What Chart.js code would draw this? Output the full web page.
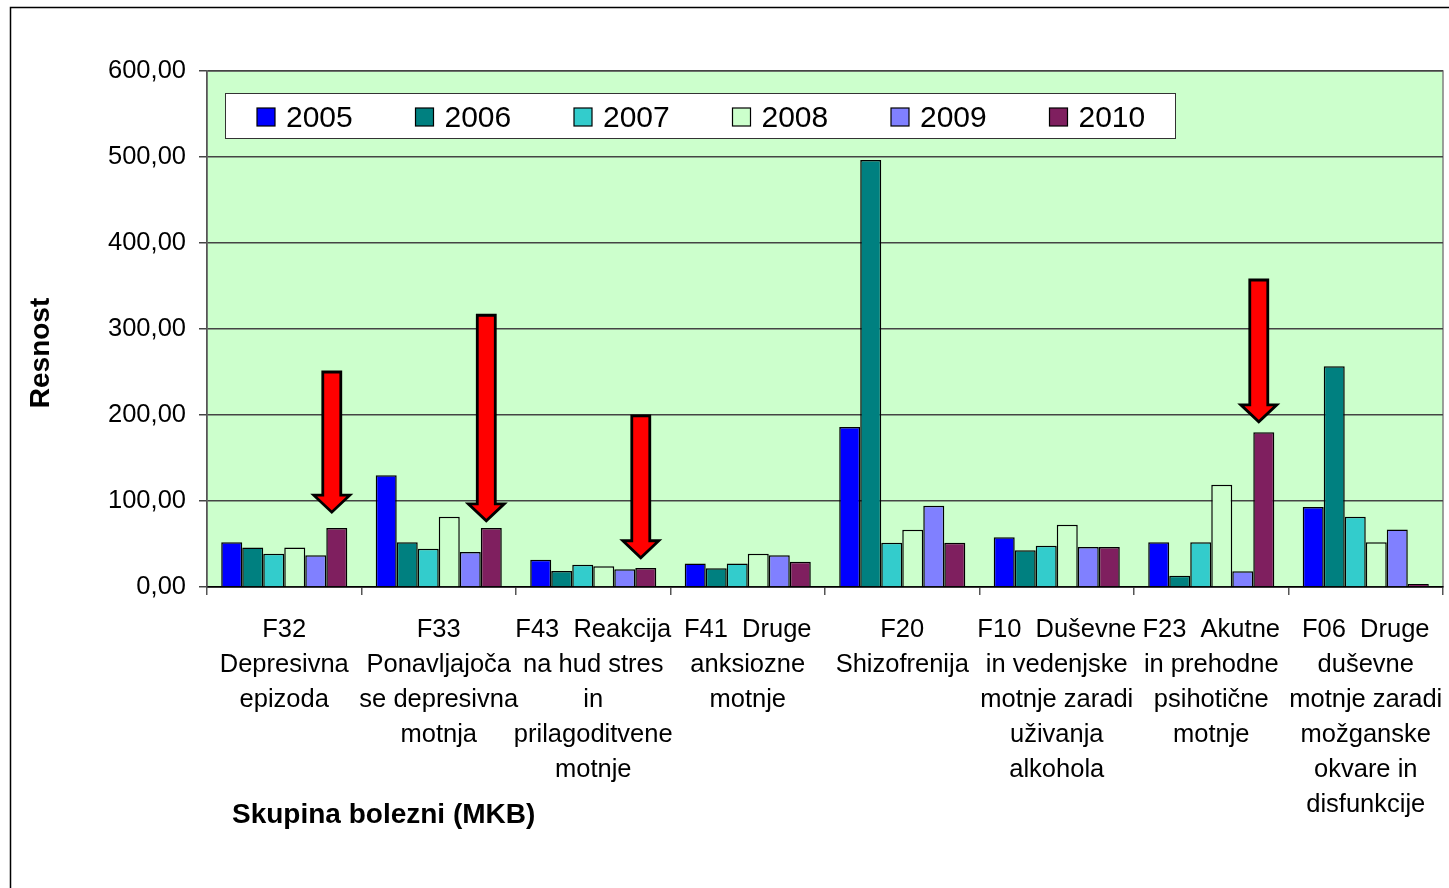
<!DOCTYPE html>
<html>
<head>
<meta charset="utf-8">
<script src="https://cdn.jsdelivr.net/npm/chart.js@4.4.1/dist/chart.umd.min.js"></script>
<style>
  html, body { margin: 0; padding: 0; background: #fff; overflow: hidden; }
</style>
</head>
<body>
<canvas id="resnostChart" width="1449" height="888"></canvas>
<script>
// podatki - resnost po skupinah bolezni (MKB), 2005-2010
const categories = [
  ["F32", "Depresivna", "epizoda"],
  ["F33", "Ponavljajoča", "se depresivna", "motnja"],
  ["F43  Reakcija", "na hud stres", "in", "prilagoditvene", "motnje"],
  ["F41  Druge", "anksiozne", "motnje"],
  ["F20", "Shizofrenija"],
  ["F10  Duševne", "in vedenjske", "motnje zaradi", "uživanja", "alkohola"],
  ["F23  Akutne", "in prehodne", "psihotične", "motnje"],
  ["F06  Druge", "duševne", "motnje zaradi", "možganske", "okvare in", "disfunkcije"]
];
const years = ["2005", "2006", "2007", "2008", "2009", "2010"];
const values2005 = [52, 130, 31.8, 27.2, 186, 57.8, 52, 93];
const values2006 = [46, 52, 18.6, 21.7, 496.5, 42.7, 13.2, 256.6];
const values2007 = [38.7, 44.5, 26, 27.2, 51.5, 48, 52, 81.8];
const values2008 = [46, 81.8, 24, 38.7, 66.6, 72.5, 119, 52];
const values2009 = [36.8, 40.7, 20.5, 36.8, 94.5, 46.5, 18.2, 67];
const values2010 = [68.6, 68.6, 22, 29.4, 51.5, 46.5, 180, 3.5];
const yTicks = [0, 100, 200, 300, 400, 500, 600];

// puščice (kategorija, vrh, konica)
const arrowCategories = [0, 1, 2, 6];
const arrowTop = [250, 316, 199, 357];
const arrowTip = [87, 77, 34, 192];

const seriesColors = ["#0000FF", "#008080", "#33CCCC", "#CCFFCC", "#8080FF", "#7F1F5F"];
const FONT = "'Liberation Sans', Arial, sans-serif";

const allValues = [values2005, values2006, values2007, values2008, values2009, values2010];

const decorPlugin = {
  id: "decor",
  beforeDraw(chart) {
    const { ctx, chartArea: a } = chart;
    ctx.save();
    ctx.fillStyle = "#fff";
    ctx.fillRect(0, 0, chart.width, chart.height);
    // okvir
    ctx.strokeStyle = "#000";
    ctx.lineWidth = 1.5;
    ctx.strokeRect(10.5, 7.5, 1500, 950);
    // ozadje grafa
    ctx.fillStyle = "#CCFFCC";
    ctx.fillRect(a.left, a.top, a.right - a.left, a.bottom - a.top);
    ctx.strokeStyle = "#808080";
    ctx.strokeRect(a.left, a.top, a.right - a.left, a.bottom - a.top);
    ctx.restore();
  },
  afterDraw(chart) {
    const { ctx } = chart;
    const yScale = chart.scales.y;
    const meta = chart.getDatasetMeta(5);

    // puščice
    ctx.save();
    arrowCategories.forEach((ci, i) => {
      const x = meta.data[ci].x - 5;
      const yTop = yScale.getPixelForValue(arrowTop[i]);
      const yTip = yScale.getPixelForValue(arrowTip[i]);
      const headY = yTip - 17;
      ctx.beginPath();
      ctx.moveTo(x - 9, yTop);
      ctx.lineTo(x + 9, yTop);
      ctx.lineTo(x + 9, headY);
      ctx.lineTo(x + 18, headY);
      ctx.lineTo(x, yTip);
      ctx.lineTo(x - 18, headY);
      ctx.lineTo(x - 9, headY);
      ctx.closePath();
      ctx.fillStyle = "#FF0000";
      ctx.fill();
      ctx.strokeStyle = "#000";
      ctx.lineWidth = 2.8;
      ctx.lineJoin = "miter";
      ctx.stroke();
    });
    ctx.restore();

    // legenda
    ctx.save();
    ctx.fillStyle = "#fff";
    ctx.fillRect(225.5, 93.5, 950, 45);
    ctx.strokeStyle = "#333";
    ctx.lineWidth = 1;
    ctx.strokeRect(225.5, 93.5, 950, 45);
    ctx.font = "30px " + FONT;
    ctx.textBaseline = "alphabetic";
    ctx.textAlign = "left";
    years.forEach((yr, i) => {
      const x = 257 + i * 158.5;
      ctx.fillStyle = seriesColors[i];
      ctx.fillRect(x, 108, 18, 18);
      ctx.strokeStyle = "#000";
      ctx.lineWidth = 1.2;
      ctx.strokeRect(x, 108, 18, 18);
      ctx.fillStyle = "#000";
      ctx.fillText(yr, x + 29, 127);
    });
    ctx.restore();

    // naslovi osi
    ctx.save();
    ctx.fillStyle = "#000";
    ctx.font = "bold 28px " + FONT;
    ctx.translate(41, 353);
    ctx.rotate(-Math.PI / 2);
    ctx.textAlign = "center";
    ctx.textBaseline = "middle";
    ctx.fillText("Resnost", 0, 0);
    ctx.restore();

    ctx.save();
    ctx.fillStyle = "#000";
    ctx.font = "bold 28px " + FONT;
    ctx.textAlign = "left";
    ctx.textBaseline = "alphabetic";
    ctx.fillText("Skupina bolezni (MKB)", 232, 823);
    ctx.restore();
  }
};

const ctx = document.getElementById("resnostChart").getContext("2d");
new Chart(ctx, {
  type: "bar",
  data: {
    labels: categories,
    datasets: years.map((yr, i) => ({
      label: yr,
      data: allValues[i],
      backgroundColor: seriesColors[i],
      borderColor: "#000",
      borderWidth: 1.5,
      barPercentage: 1,
      categoryPercentage: 0.816
    }))
  },
  options: {
    responsive: false,
    animation: false,
    layout: { autoPadding: false, padding: { top: 71, right: 6, left: 0, bottom: 0 } },
    plugins: {
      legend: { display: false },
      tooltip: { enabled: false }
    },
    scales: {
      x: {
        afterFit(scale) {
          scale.height = 301;
          scale.paddingLeft = 0;
          scale.paddingRight = 0;
        },
        ticks: {
          autoSkip: false,
          maxRotation: 0,
          minRotation: 0,
          padding: 17.5,
          color: "#000",
          font: { family: FONT, size: 25.5, lineHeight: "35px" }
        },
        grid: { offset: true, drawOnChartArea: false, tickLength: 8, color: "#555", lineWidth: 1.5 },
        border: { color: "#000", width: 1.5 }
      },
      y: {
        min: 0,
        max: 600,
        afterFit(scale) {
          scale.width = 207;
          scale.paddingTop = 0;
          scale.paddingBottom = 0;
        },
        afterBuildTicks(scale) { scale.ticks = yTicks.map(v => ({ value: v })); },
        ticks: {
          padding: 13,
          color: "#000",
          font: { family: FONT, size: 25.5 },
          callback: v => v.toFixed(2).replace(".", ",")
        },
        grid: { color: "#444", lineWidth: 1.5, tickLength: 8 },
        border: { color: "#555", width: 1.5 }
      }
    }
  },
  plugins: [decorPlugin]
});
</script>
</body>
</html>
